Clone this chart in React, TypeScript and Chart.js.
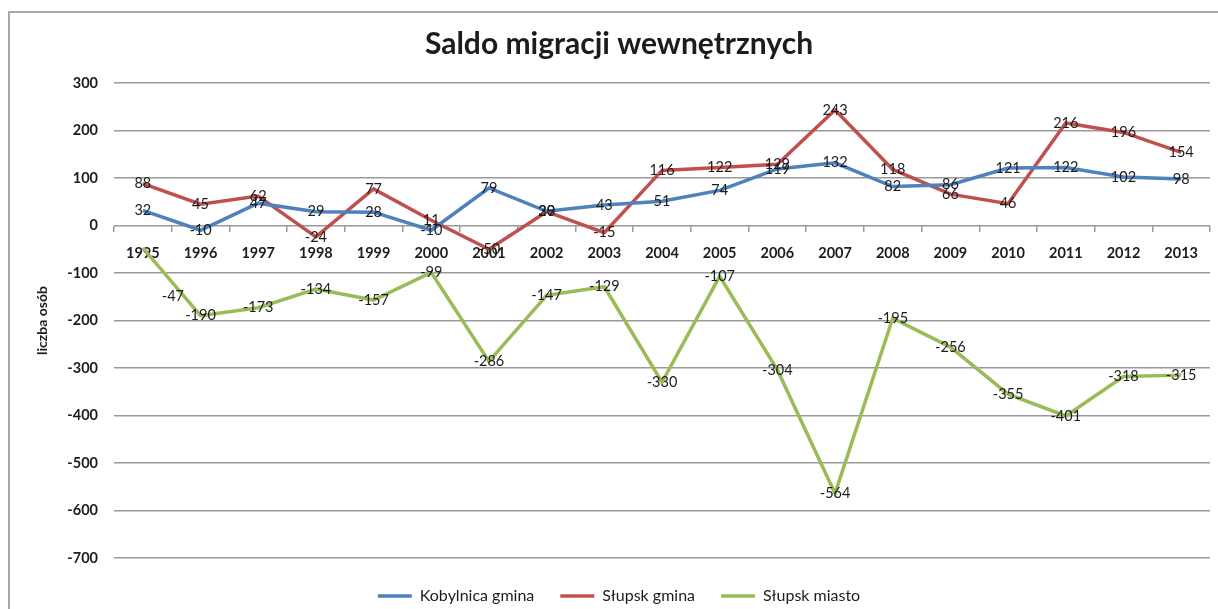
import React, { useEffect, useRef } from 'react';
import { Chart, registerables } from 'chart.js';

Chart.register(...registerables);

const years = ['1995', '1996', '1997', '1998', '1999', '2000', '2001', '2002', '2003', '2004', '2005', '2006', '2007', '2008', '2009', '2010', '2011', '2012', '2013'];
const kobylnicaGmina = [32, -10, 47, 29, 28, -10, 79, 30, 43, 51, 74, 119, 132, 82, 86, 121, 122, 102, 98];
const slupskGmina = [88, 45, 62, -24, 77, 11, -50, 29, -15, 116, 122, 129, 243, 118, 66, 46, 216, 196, 154];
const slupskMiasto = [-47, -190, -173, -134, -157, -99, -286, -147, -129, -330, -107, -304, -564, -195, -256, -355, -401, -318, -315];
const yTickValues = [300, 200, 100, 0, -100, -200, -300, -400, -500, -600, -700];

const TEXT = '#1c1c1c';
const FONT = 'Lato';

const valueLabels = {
  id: 'valueLabels',
  afterDatasetsDraw(chart: any) {
    const ctx = chart.ctx;
    ctx.save();
    ctx.font = `14.5px ${FONT}`;
    ctx.fillStyle = TEXT;
    ctx.textAlign = 'center';
    ctx.textBaseline = 'middle';
    chart.data.datasets.forEach((ds: any, di: number) => {
      const meta = chart.getDatasetMeta(di);
      meta.data.forEach((pt: any, i: number) => {
        let dx = 0;
        let dy = 0;
        if (di === 2 && i === 0) {
          dx = 30;
          dy = 49;
        }
        ctx.fillText(String(ds.data[i]), pt.x + dx, pt.y + dy);
      });
    });
    ctx.restore();
  },
};

export default function App() {
  const ref = useRef<HTMLCanvasElement | null>(null);

  useEffect(() => {
    if (!ref.current) return;
    const chart = new Chart(ref.current, {
      type: 'line',
      data: {
        labels: years,
        datasets: [
          { label: 'Kobylnica gmina', data: kobylnicaGmina, borderColor: '#4F81BD', backgroundColor: '#4F81BD', borderWidth: 3.5, pointRadius: 0, tension: 0 },
          { label: 'Słupsk gmina', data: slupskGmina, borderColor: '#C0504D', backgroundColor: '#C0504D', borderWidth: 3.5, pointRadius: 0, tension: 0 },
          { label: 'Słupsk miasto', data: slupskMiasto, borderColor: '#9BBB59', backgroundColor: '#9BBB59', borderWidth: 3.5, pointRadius: 0, tension: 0 },
        ],
      },
      options: {
        animation: false,
        responsive: false,
        layout: { padding: { left: 0, right: 2, top: 0, bottom: 9 } },
        scales: {
          x: {
            type: 'category',
            position: { y: 0 } as any,
            offset: true,
            grid: { drawOnChartArea: false, drawTicks: true, tickLength: 6, offset: true, color: '#9a9a9a', lineWidth: 1.5 },
            border: { display: false },
            ticks: { color: TEXT, font: { family: FONT, size: 14.5, weight: 'bold' }, padding: 13, maxRotation: 0, autoSkip: false },
          },
          y: {
            min: -700,
            max: 300,
            afterBuildTicks: (s: any) => {
              s.ticks = yTickValues.map((v) => ({ value: v }));
            },
            afterFit: (s: any) => {
              s.width = 104;
            },
            grid: { drawTicks: false, color: '#9a9a9a', lineWidth: 1.5 },
            border: { display: false },
            ticks: { color: TEXT, font: { family: FONT, size: 14.5, weight: 'bold' }, padding: 16 },
            title: { display: true, text: 'liczba osób', color: TEXT, font: { family: FONT, size: 14, weight: 'bold' }, padding: { top: 23.6, bottom: 0 } },
          },
          yRightSpace: {
            type: 'linear',
            position: 'right',
            min: -700,
            max: 300,
            grid: { display: false, drawTicks: false },
            border: { display: false },
            ticks: { display: false },
            afterFit: (s: any) => {
              s.width = 18;
            },
          },
        },
        plugins: {
          title: {
            display: true,
            text: 'Saldo migracji wewnętrznych',
            color: TEXT,
            font: { family: FONT, size: 30, weight: 'bold' },
            padding: { top: 13, bottom: 21 },
          },
          legend: {
            position: 'bottom',
            title: { display: true, text: '', font: { size: 10 / 3 }, padding: 0 },
            labels: {
              usePointStyle: true,
              pointStyle: 'line',
              pointStyleWidth: 34,
              padding: 26,
              color: TEXT,
              font: { family: FONT, size: 16 },
            },
          },
          tooltip: { enabled: false },
        },
      },
      plugins: [valueLabels],
    } as any);
    return () => chart.destroy();
  }, []);

  return (
    <div
      style={{
        position: 'fixed',
        left: 8,
        top: 11,
        width: 1230,
        height: 620,
        borderLeft: '2px solid #a8a8a8',
        borderTop: '2px solid #a8a8a8',
        overflow: 'hidden',
        background: '#fff',
      }}
    >
      <canvas ref={ref} width={1220} height={610} style={{ display: 'block' }} />
    </div>
  );
}
